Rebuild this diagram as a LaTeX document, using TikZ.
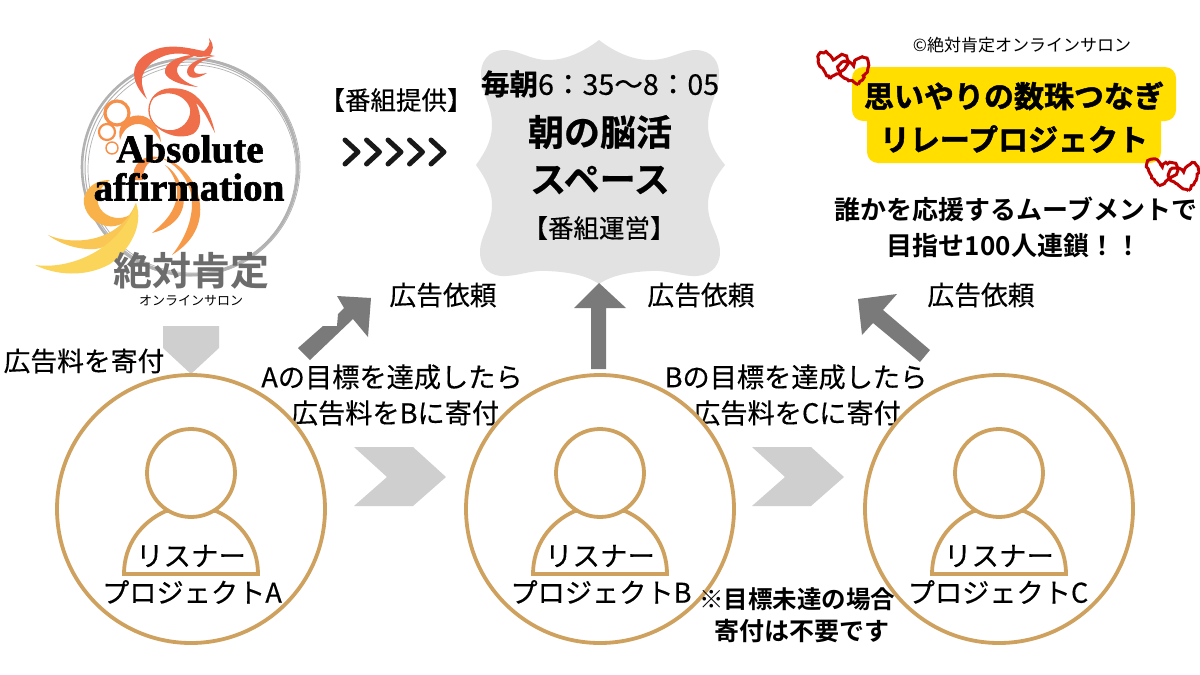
\documentclass[tikz,border=0pt]{standalone}
\usepackage{fontspec}
\setmainfont{Noto Sans CJK JP}[BoldFont={Noto Sans CJK JP Bold}]
\newfontfamily\heavy{Noto Sans CJK JP Bold}[FakeBold=1.6]
\newfontfamily\semib{Noto Sans CJK JP Bold}[FakeBold=0.6]
\newfontfamily\medium{Noto Sans CJK JP}[FakeBold=0.35]
\newfontfamily\lserif{Liberation Serif Bold}[FakeBold=1.6]
\usetikzlibrary{decorations.pathmorphing}
\definecolor{tan}{HTML}{CFA15F}
\definecolor{lgray}{HTML}{CFCFCF}
\definecolor{dgray}{HTML}{7A7A7A}
\definecolor{plaque}{HTML}{E2E2E2}
\definecolor{yel}{HTML}{FFDE00}
\definecolor{fireA}{HTML}{EE6A4A}
\definecolor{fireB}{HTML}{F58F4A}
\definecolor{fireC}{HTML}{F9B24A}
\definecolor{fireD}{HTML}{FBD45A}
\tikzset{
 lbl/.style={inner sep=0pt,font=\medium\fontsize{26.8}{26.8}\selectfont,text=black},
 lblb/.style={inner sep=0pt,font=\semib\fontsize{36}{36}\selectfont,text=black},
 lblm/.style={inner sep=0pt,font=\bfseries\fontsize{26}{26}\selectfont,text=black},
 ttl/.style={inner sep=0pt,font=\heavy\fontsize{30}{30}\selectfont,text=black},
 ring/.style={draw=tan,line width=3.8pt,fill=white},
 lgarrow/.style={fill=lgray,draw=none},
 dgarrow/.style={fill=dgray,draw=none},
 chev/.style={draw=black!90,line width=5pt,line cap=round,line join=round},
 heart/.style={draw=red!75!black,line width=3pt,decorate,decoration={random steps,segment length=2.5pt,amplitude=1pt}},
 logoring/.style={draw=gray!60,line width=1pt},
}
\begin{document}
\begin{tikzpicture}[x=1pt,y=-1pt]
\useasboundingbox (0,0) rectangle (1200,675);
\fill[white] (0,0) rectangle (1200,675);

% logo ring
\foreach \r/\dx/\dy/\w in {108/0/0/2.6,106/1/1/1,109/1/0/.8,104/2/2/.7}
  \draw[logoring,line width=\w pt] (190+\dx,167+\dy) circle (\r);
% flame: top crescents
\fill[fireA] (147,99) .. controls (128,80) and (128,58) .. (160,48) .. controls (178,44) and (196,50) .. (204,51)
  .. controls (208,48) and (211,43) .. (209,38) .. controls (215,46) and (213,50) .. (210,55) -- (215,56) -- (198,57)
  .. controls (188,54) and (178,52) .. (167,55) .. controls (150,60) and (140,72) .. (142,84) .. controls (143,90) and (145,95) .. (147,99) -- cycle;
\fill[fireA] (198,87) .. controls (178,85) and (163,78) .. (165,70) .. controls (167,60) and (185,54) .. (198,55)
  .. controls (186,58) and (176,64) .. (177,71) .. controls (178,78) and (188,84) .. (198,87) -- cycle;
\fill[fireA] (207,73) .. controls (198,79) and (188,80) .. (187,72) .. controls (187,64) and (198,58) .. (214,56)
  .. controls (202,60) and (193,66) .. (194,71) .. controls (195,75) and (202,74) .. (207,73) -- cycle;
% ring swirl with tails
\draw[fireA!85!fireB,line width=1.3pt] (170,110) circle (21);
\fill[fireA!85!fireB] (151,100) .. controls (160,85) and (185,85) .. (197,97) .. controls (206,105) and (212,118) .. (215,133)
  .. controls (208,120) and (204,110) .. (196,103) .. controls (202,116) and (202,128) .. (193,134)
  .. controls (180,140) and (165,134) .. (158,128) .. controls (172,133) and (186,130) .. (190,116)
  .. controls (194,100) and (170,84) .. (151,100) -- cycle;
% small rings
\draw[fireB,line width=3.2pt] (117,113) circle (12);
\draw[fireB,line width=2.2pt] (107,132) circle (8);
\draw[fireB,line width=1.4pt] (112,148) circle (6);
\fill[fireB] (120,140) .. controls (116,122) and (130,113) .. (143,116) .. controls (153,119) and (160,130) .. (161,142)
  .. controls (155,130) and (145,123) .. (136,124) .. controls (126,126) and (122,133) .. (120,140) -- cycle;
% lower swirl
\fill[fireB!70!fireC] (160,158) .. controls (180,160) and (203,185) .. (200,215) .. controls (198,232) and (188,245) .. (172,255)
  .. controls (188,235) and (196,210) .. (190,190) .. controls (185,175) and (175,163) .. (160,158) -- cycle;
\fill[fireB!70!fireC] (165,165) .. controls (178,172) and (188,195) .. (182,210) .. controls (178,222) and (165,230) .. (152,233)
  .. controls (165,222) and (175,212) .. (177,195) .. controls (178,183) and (172,172) .. (165,165) -- cycle;
\fill[fireB] (134,180) .. controls (130,165) and (145,152) .. (160,158) .. controls (150,158) and (142,168) .. (143,180) -- cycle;
% yellow loop and tails
\fill[fireC] (110,180) .. controls (90,180) and (80,195) .. (85,208) .. controls (90,222) and (105,228) .. (115,226)
  .. controls (125,224) and (132,218) .. (134,212) .. controls (125,220) and (112,220) .. (103,212)
  .. controls (94,203) and (96,190) .. (110,180) -- cycle;
\fill[fireD!60!fireC] (48,235) .. controls (70,245) and (118,245) .. (136,203) .. controls (138,225) and (120,246) .. (95,249)
  .. controls (78,250) and (60,244) .. (48,235) -- cycle;
\fill[fireD] (35,265) .. controls (70,270) and (120,250) .. (136,203) .. controls (144,225) and (130,250) .. (110,264)
  .. controls (85,278) and (55,275) .. (35,265) -- cycle;
\node[inner sep=0pt,font=\lserif\fontsize{39}{39}\selectfont] (abs) at (190,149) {Absolute};
\node[inner sep=0pt,font=\lserif\fontsize{39}{39}\selectfont] (aff) at (189,187) {affirmation};
\node[inner sep=0pt,text=gray!85!black,font=\bfseries\fontsize{39}{39}\selectfont] (zt) at (191,271) {絶対肯定};
\node[inner sep=0pt,font=\fontsize{13}{13}\selectfont] (os) at (191,301) {オンラインサロン};

% plaque
\fill[plaque] (599,40) .. controls (612,50) and (630,60) .. (650,60)
 .. controls (670,60) and (682,50) .. (695,50) .. controls (712,50) and (720,62) .. (719,76)
 .. controls (718,95) and (708,105) .. (708,125) .. controls (708,142) and (717,155) .. (725,165)
 .. controls (717,175) and (708,188) .. (708,205) .. controls (708,225) and (720,235) .. (720,252)
 .. controls (720,268) and (708,277) .. (692,276) .. controls (675,275) and (668,270) .. (650,271)
 .. controls (630,272) and (612,275) .. (599,284)
 .. controls (586,275) and (568,272) .. (548,271) .. controls (530,270) and (523,275) .. (506,276)
 .. controls (490,277) and (480,268) .. (480,252) .. controls (480,235) and (492,225) .. (492,205)
 .. controls (492,188) and (483,175) .. (476,165) .. controls (483,155) and (492,142) .. (492,125)
 .. controls (492,105) and (482,95) .. (481,76) .. controls (480,62) and (488,50) .. (505,50)
 .. controls (518,50) and (530,60) .. (548,60) .. controls (568,60) and (586,50) .. (599,40) -- cycle;
\node[inner sep=0pt,font=\medium\fontsize{28.6}{28.6}\selectfont] (time) at (600,84) {{\semib 毎朝}6：35～8：05};
\node[lblb] (asa) at (600,132) {朝の脳活};
\node[lblb] (sp) at (600,180) {スペース};
\node[lbl,font=\medium\fontsize{25.5}{25.5}\selectfont] (unei) at (599,228) {【番組運営】};

% provide
\node[lbl,font=\medium\fontsize{25.5}{25.5}\selectfont] (teikyo) at (396,100) {【番組提供】};
\foreach \i in {0,...,4}
  \draw[chev] (345+21.5*\i,140) -- (358+21.5*\i,152) -- (345+21.5*\i,164);

% title
\node[inner sep=0pt,font=\fontsize{17}{17}\selectfont] (copy) at (1022,45) {©絶対肯定オンラインサロン};
\fill[yel,rounded corners=11pt] (852,67) rectangle (1176,121);
\fill[yel,rounded corners=11pt] (867,100) rectangle (1161,163);
\node[ttl] (t1) at (1014,96) {思いやりの数珠つなぎ};
\node[ttl] (t2) at (1014,139) {リレープロジェクト};
\node[lblm] (s1) at (1016,209) {誰かを応援するムーブメントで};
\node[lblm] (s2) at (1014,246) {目指せ100人連鎖！！};
% hearts
\def\hrt#1#2#3#4{\begin{scope}[shift={(#1,#2)},rotate=#3,scale=#4]
 \draw[heart] (0,13) .. controls (-8,6) and (-16,0) .. (-15,-7) .. controls (-14,-14) and (-4,-14) .. (0,-6)
  .. controls (4,-14) and (14,-14) .. (15,-7) .. controls (16,0) and (8,6) .. (0,13) -- cycle;\end{scope}}
\hrt{832}{66}{-10}{1}
\hrt{855}{72}{15}{1}
\hrt{1161}{173}{-10}{1}
\hrt{1185}{178}{15}{1}

% labels
\node[lbl] (k1) at (443,295) {広告依頼};
\node[lbl] (k2) at (701,295) {広告依頼};
\node[lbl] (k3) at (981,295) {広告依頼};
\node[lbl] (ka) at (84,361) {広告料を寄付};
\node[lbl,font=\medium\fontsize{27.2}{27.2}\selectfont] (a1) at (392,377) {Aの目標を達成したら};
\node[lbl,font=\medium\fontsize{27.2}{27.2}\selectfont] (a2) at (395,413) {広告料をBに寄付};
\node[lbl,font=\medium\fontsize{27.2}{27.2}\selectfont] (b1) at (796,377) {Bの目標を達成したら};
\node[lbl,font=\medium\fontsize{27.2}{27.2}\selectfont] (b2) at (797,413) {広告料をCに寄付};

% arrows
\fill[lgarrow] (163,326) -- (219,326) -- (219,348) -- (191,374) -- (163,348) -- cycle;
\fill[lgarrow] (354,447) -- (413,447) -- (446,477) -- (413,506) -- (354,506) -- (387,477) -- cycle;
\fill[lgarrow] (752,447) -- (811,447) -- (844,477) -- (811,506) -- (752,506) -- (785,477) -- cycle;
\fill[dgarrow] (591,369) -- (591,308) -- (574,308) -- (599,283) -- (626,308) -- (606,308) -- (606,369) -- cycle;
\fill[dgarrow] (298,348) -- (323,326) -- (337,326) -- (338,314) -- (344,308) -- (337,296) -- (371,298) -- (368,337) -- (353,319) -- (310,360) -- cycle;
\fill[dgarrow] (930,350) -- (883,310) -- (897,294) -- (858,299) -- (862,335) -- (873,323) -- (920,362) -- cycle;

% persons
\foreach \n/\c/\t/\ty in {A/191/A/192,B/600/B/601,C/999/C/998}{
  \node[ring,circle,minimum size=268pt,inner sep=0pt] (c\n) at (\c,509) {};
  \draw[ring] (\c-67,574) .. controls (\c-67,545) and (\c-50,522) .. (\c-25,511) -- (\c+25,511)
     .. controls (\c+50,522) and (\c+67,545) .. (\c+67,574) -- cycle;
  \node[ring,circle,minimum size=88pt,inner sep=0pt] (h\n) at (\c,473) {};
  \node[lbl,font=\medium\fontsize{27.5}{27.5}\selectfont] (r\n) at (\c,556) {リスナー};
  \node[lbl,font=\medium\fontsize{27.2}{27.2}\selectfont] (p\n) at (\ty,592) {プロジェクト\t};
}
\node[lblm,font=\bfseries\fontsize{24.5}{24.5}\selectfont] (n1) at (797,599) {※目標未達の場合};
\node[lblm,font=\bfseries\fontsize{25}{25}\selectfont] (n2) at (802,631) {寄付は不要です};
\end{tikzpicture}
\end{document}
